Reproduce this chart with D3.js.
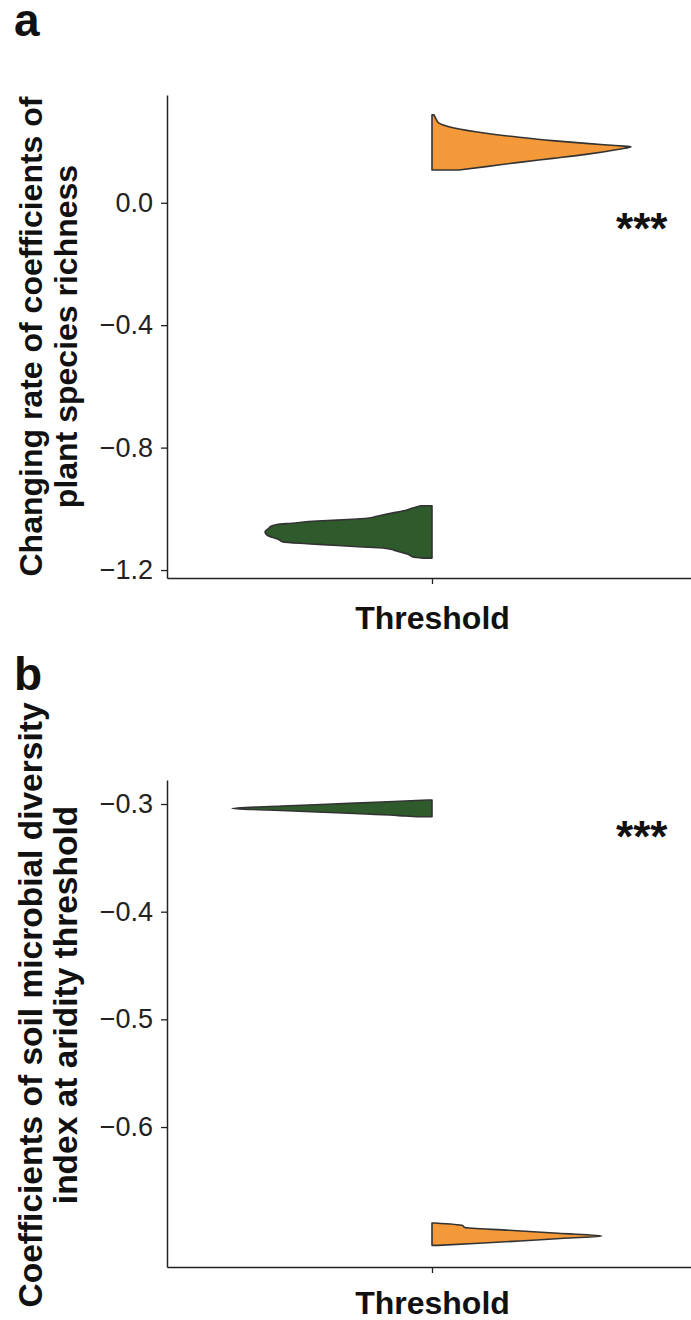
<!DOCTYPE html>
<html>
<head>
<meta charset="utf-8">
<script src="https://cdn.jsdelivr.net/npm/d3@7"></script>
<style>
  html, body { margin: 0; padding: 0; background: #fff; }
  svg { display: block; }
  text { font-family: "Liberation Sans", Arial, sans-serif; }
</style>
</head>
<body>
<svg id="chart" width="691" height="1320"></svg>
<script>
// ---- data ----------------------------------------------------------------
const panelLabels = ["a", "b"];
const xCategories = ["Threshold"];
const groupColors = { low: "#2F5B2C", high: "#F3993A" };

// panel a: plant species richness
const yTitleA = ["Changing rate of coefficients of", "plant species richness"];
const yTicksA = [0.0, -0.4, -0.8, -1.2];
const yDomainA = [-1.226, 0.352];
const sigA = { x: 1.475, y: -0.135, label: "***" };

// half-violin profiles: coefficient value and relative density
const greenAValue = [-0.990, -0.998, -1.004, -1.014, -1.024, -1.031, -1.037, -1.040, -1.047, -1.051,
                     -1.057, -1.063, -1.075, -1.086, -1.093, -1.099, -1.108, -1.114, -1.119, -1.124,
                     -1.128, -1.135, -1.141, -1.148, -1.157, -1.161];
const greenADensity = [0.055, 0.10, 0.125, 0.20, 0.275, 0.325, 0.475, 0.575, 0.70, 0.775,
                       0.805, 0.815, 0.835, 0.825, 0.80, 0.77, 0.745, 0.625, 0.495, 0.37,
                       0.245, 0.19, 0.16, 0.12, 0.095, 0.045];
const orangeAValue = [0.287, 0.274, 0.260, 0.245, 0.227, 0.214, 0.203, 0.194, 0.186, 0.183,
                      0.175, 0.158, 0.145, 0.132, 0.118, 0.107];
const orangeADensity = [0.01, 0.02, 0.035, 0.105, 0.27, 0.435, 0.60, 0.77, 0.935, 0.995,
                        0.935, 0.77, 0.605, 0.435, 0.27, 0.135];

// panel b: soil microbial diversity
const yTitleB = ["Coefficients of soil microbial diversity", "index at aridity threshold"];
const yTicksB = [-0.3, -0.4, -0.5, -0.6];
const yDomainB = [-0.730, -0.2777];
const sigB = { x: 1.475, y: -0.3446, label: "***" };

const greenBValue = [-0.2963, -0.2981, -0.3000, -0.3019, -0.3042, -0.3056, -0.3074, -0.3093,
                     -0.3102, -0.3112, -0.3118];
const greenBDensity = [0.02, 0.25, 0.50, 0.75, 1.00, 0.82, 0.575, 0.33, 0.21, 0.135, 0.075];
const orangeBValue = [-0.6891, -0.6913, -0.6934, -0.6959, -0.6987, -0.7012, -0.7033, -0.7058,
                      -0.7080, -0.7099];
const orangeBDensity = [0.015, 0.15, 0.165, 0.385, 0.63, 0.85, 0.66, 0.44, 0.235, 0.03];

// ---- layout ----------------------------------------------------------------
const svg = d3.select("#chart");
svg.append("rect").attr("width", 691).attr("height", 1320).attr("fill", "#fff");

const axisColor = "#222";
const outline = "#333";
const halfWidth = 0.4528;   // x units spanned by a density of 1

const panels = [
  {
    label: panelLabels[0], labelY: 36,
    top: 95, bottom: 578,
    yDomain: yDomainA, yTicks: yTicksA, yTitle: yTitleA, sig: sigA,
    titleSize: 32, titleCenter: 336.5, xPad: 22,
    violins: [
      { value: greenAValue, density: greenADensity, side: -1, color: groupColors.low },
      { value: orangeAValue, density: orangeADensity, side: 1, color: groupColors.high }
    ]
  },
  {
    label: panelLabels[1], labelY: 690,
    top: 780, bottom: 1267,
    yDomain: yDomainB, yTicks: yTicksB, yTitle: yTitleB, sig: sigB,
    titleSize: 33.5, titleCenter: 1005, xPad: 18,
    violins: [
      { value: greenBValue, density: greenBDensity, side: -1, color: groupColors.low },
      { value: orangeBValue, density: orangeBDensity, side: 1, color: groupColors.high }
    ]
  }
];

const left = 167, right = 697;
const x = d3.scaleLinear().domain([0.4, 1.6]).range([left, right]);
const xBand = d3.scalePoint().domain(xCategories).range([left, right]).padding(0.5);

panels.forEach(p => {
  const g = svg.append("g");
  const y = d3.scaleLinear().domain(p.yDomain).range([p.bottom, p.top]);

  // panel tag
  g.append("text")
    .attr("x", 14).attr("y", p.labelY)
    .attr("font-size", 46).attr("font-weight", "bold").attr("fill", "#111")
    .text(p.label);

  // half violins
  p.violins.forEach(v => {
    const pts = v.value.map((val, i) => ({ val, d: v.density[i] }))
      .sort((a, b) => b.val - a.val);
    const area = d3.area()
      .curve(d3.curveMonotoneY)
      .y(d => y(d.val))
      .x0(() => x(1))
      .x1(d => x(1 + v.side * d.d * halfWidth));
    g.append("path")
      .datum(pts)
      .attr("d", area)
      .attr("fill", v.color)
      .attr("stroke", outline)
      .attr("stroke-width", 1.6)
      .attr("stroke-linejoin", "round");
  });

  // y axis
  const yAxis = g.append("g")
    .attr("transform", `translate(${left},0)`)
    .call(d3.axisLeft(y).tickValues(p.yTicks).tickFormat(d3.format(".1f"))
      .tickSize(6).tickSizeOuter(0).tickPadding(8));
  yAxis.select(".domain").attr("stroke", axisColor).attr("stroke-width", 1.5);
  yAxis.selectAll(".tick line").attr("stroke", axisColor).attr("stroke-width", 1.3);
  yAxis.selectAll(".tick text")
    .attr("fill", "#222").attr("font-size", 27)
    .style("font-family", "'Liberation Sans', Arial, sans-serif");

  // x axis
  const xAxis = g.append("g")
    .attr("transform", `translate(0,${p.bottom})`)
    .call(d3.axisBottom(xBand).tickSize(6).tickSizeOuter(0).tickPadding(p.xPad));
  xAxis.select(".domain").attr("stroke", axisColor).attr("stroke-width", 1.5);
  xAxis.selectAll(".tick line").attr("stroke", axisColor).attr("stroke-width", 1.3);
  xAxis.selectAll(".tick text")
    .attr("fill", "#111").attr("font-size", 32).attr("font-weight", "bold")
    .style("font-family", "'Liberation Sans', Arial, sans-serif");

  // y axis title (two lines)
  const title = g.append("text")
    .attr("transform", `translate(42,${p.titleCenter}) rotate(-90)`)
    .attr("text-anchor", "middle")
    .attr("font-size", p.titleSize).attr("font-weight", "bold").attr("fill", "#111");
  p.yTitle.forEach((line, i) => {
    title.append("tspan").attr("x", 0).attr("y", i * 35).text(line);
  });

  // significance marker
  g.append("text")
    .attr("x", x(p.sig.x)).attr("y", y(p.sig.y))
    .attr("text-anchor", "middle")
    .attr("font-size", 44).attr("font-weight", "bold").attr("fill", "#111")
    .text(p.sig.label);
});
</script>
</body>
</html>
